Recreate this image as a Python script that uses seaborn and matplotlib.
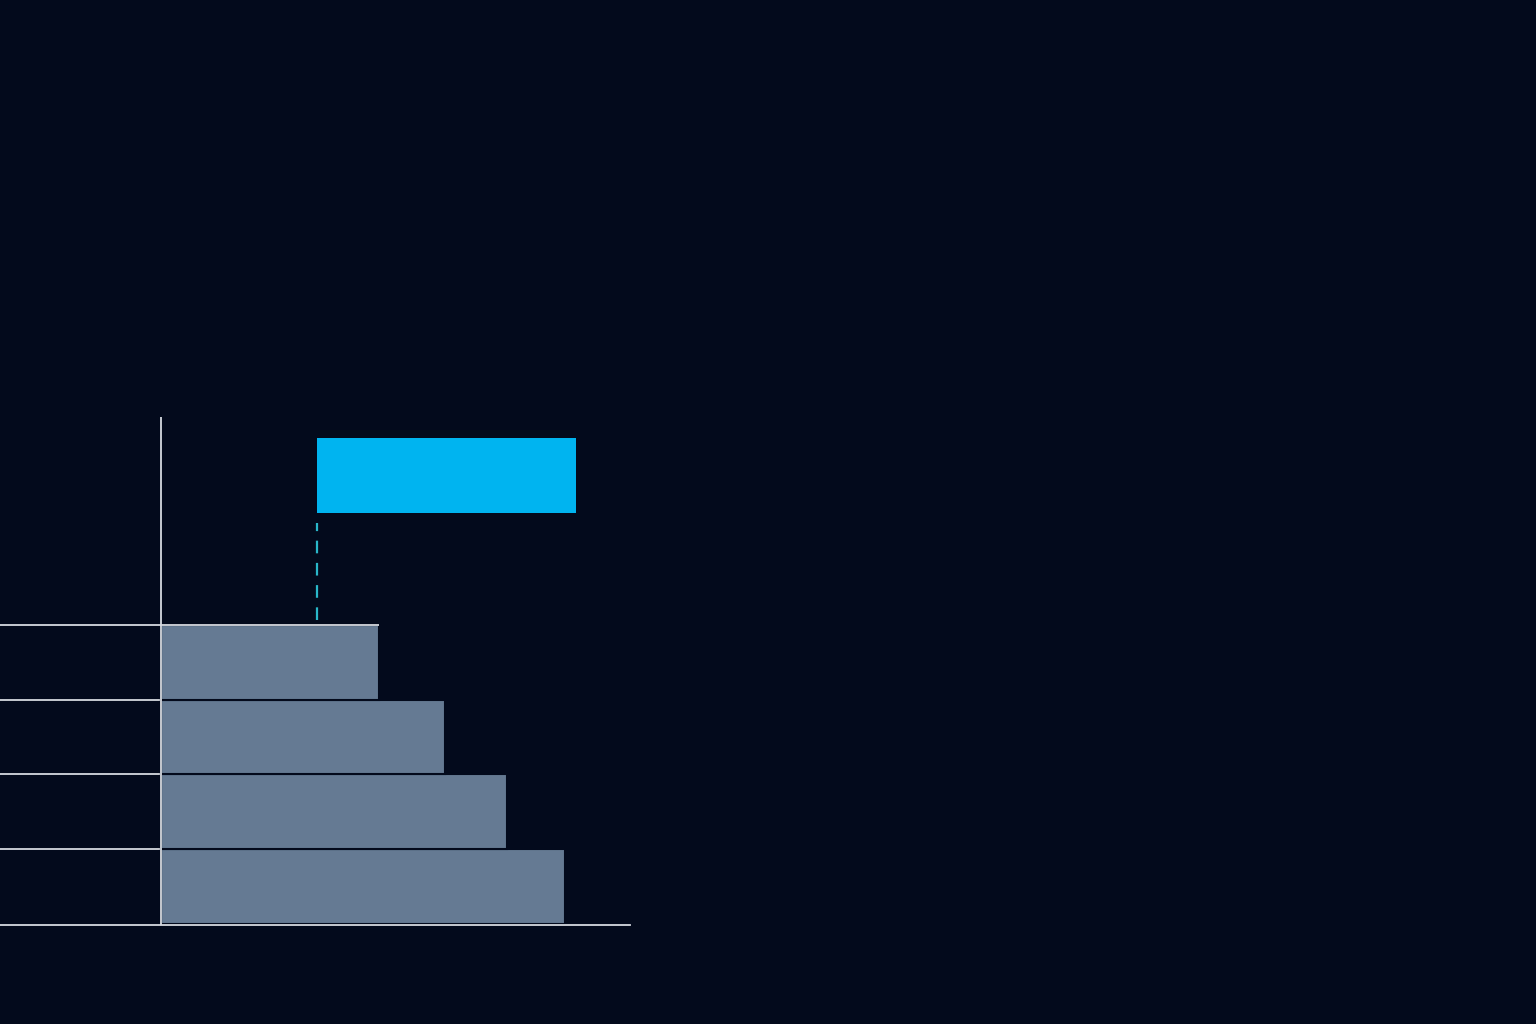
import matplotlib
matplotlib.use("Agg")
import matplotlib.pyplot as plt
import seaborn as sns
import pandas as pd

# data
rows = [0, 1, 2, 3]                 # bottom -> top
values = [100.9, 86.4, 70.9, 54.6]
target_row = 5.5
target_start = 39
target_end = 103.75

bg = "#030a1c"
bar_color = "#657a93"
blue = "#00b4f0"
line_color = "#d6dae0"

sns.set_theme(style="white")
plt.rcParams['font.family'] = ['DejaVu Sans']

fig = plt.figure(figsize=(15.36, 10.24), dpi=100)
fig.patch.set_facecolor(bg)
# axes from x=0..630 px, y=417..925 px
ax = fig.add_axes([0, 1 - 925/1024, 630/1536, (925-417)/1024])
ax.set_facecolor(bg)

df = pd.DataFrame({"row": rows, "value": values})
sns.barplot(data=df, x="value", y="row", orient="h", native_scale=True,
            width=1.0, color=bar_color, saturation=1, edgecolor=bg,
            linewidth=1.5, ax=ax, zorder=2)

# floating highlight bar
ax.barh(target_row, target_end - target_start, left=target_start, height=1.0,
        color=blue, edgecolor="none", linewidth=0, zorder=3)

# dashed connector from top bar up to the highlight bar
ax.vlines(target_start, rows[-1] + 0.565, target_row - 0.635, color="#29b7c9",
          linestyles=(0, (5.7, 4.3)), linewidth=1.6, zorder=3)

ax.set_xlim(-40.25, 117.25)
ax.set_ylim(-0.515, 6.28)

# row boundary lines on the left, top one running over the top bar
ax.hlines([r + 0.5 for r in rows[:-1]], -40.25, 0, color=line_color,
          linewidth=1.3, zorder=1)
ax.hlines(rows[-1] + 0.5, -40.25, values[-1], color=line_color,
          linewidth=1.3, zorder=4)
ax.axvline(0, color=line_color, linewidth=1.3, zorder=4)

for s in ["top", "right", "left"]:
    ax.spines[s].set_visible(False)
ax.spines["bottom"].set_color(line_color)
ax.spines["bottom"].set_linewidth(1.3)
ax.spines["bottom"].set_zorder(5)
ax.set_xticks([])
ax.set_yticks([])
ax.set_xlabel("")
ax.set_ylabel("")

fig.savefig("out.png", dpi=100, facecolor=bg)
